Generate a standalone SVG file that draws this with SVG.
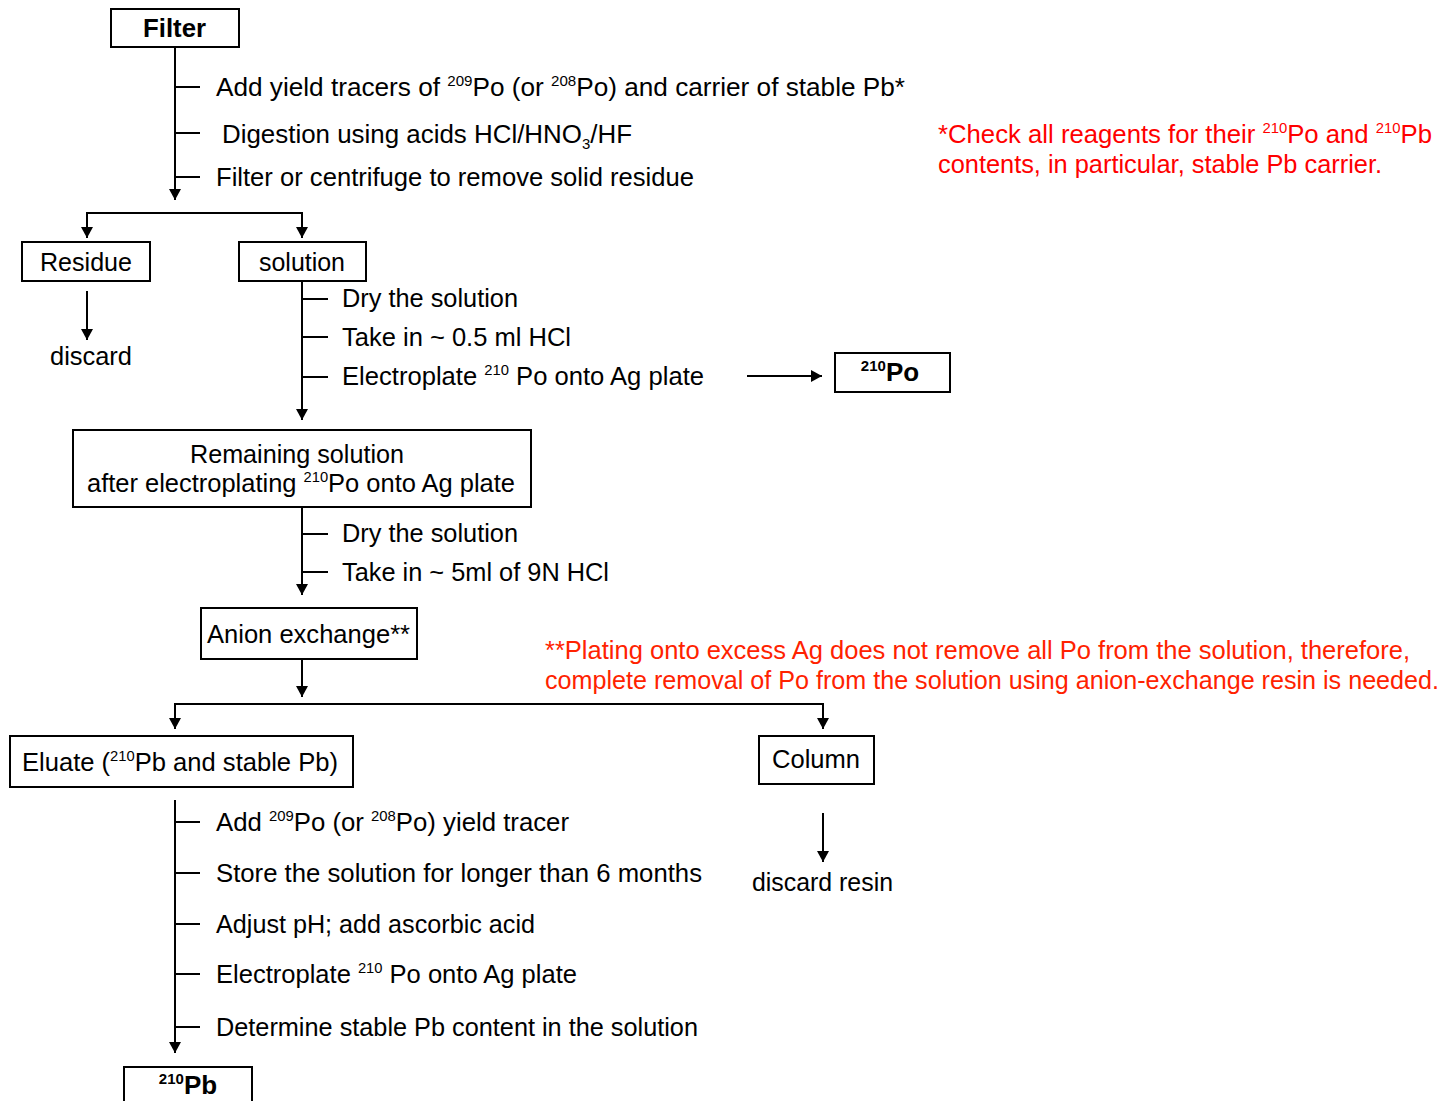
<svg xmlns="http://www.w3.org/2000/svg" width="1444" height="1101" viewBox="0 0 1444 1101">
<style>
.t{font-family:"Liberation Sans",Arial,sans-serif;font-size:26px;fill:#000}
.b{font-weight:bold}
.r{fill:#ff0000}
.r2{fill:#ff2200}
.s{font-size:15px}
.box{fill:#fff;stroke:#000;stroke-width:2}
.ln{fill:none;stroke:#000;stroke-width:2}
.c{text-anchor:middle}
</style>
<defs>
<marker id="ah" markerWidth="12" markerHeight="12" refX="11" refY="6" orient="auto" markerUnits="userSpaceOnUse">
<path d="M0,0 L11,6 L0,12 z" fill="#000"/>
</marker>
</defs>
<rect width="1444" height="1101" fill="#fff"/>

<g id="connectors">
<path class="ln" d="M175,47 V200" marker-end="url(#ah)"/>
<path class="ln" d="M175,87 H200 M175,133 H200 M175,177 H200"/>
<path class="ln" d="M176,213 H87 V238" marker-end="url(#ah)"/>
<path class="ln" d="M174,213 H302 V238" marker-end="url(#ah)"/>
<path class="ln" d="M87,291 V340" marker-end="url(#ah)"/>
<path class="ln" d="M302,281 V420" marker-end="url(#ah)"/>
<path class="ln" d="M302,299 H328 M302,337 H328 M302,377 H328"/>
<path class="ln" d="M747,376 H822" marker-end="url(#ah)"/>
<path class="ln" d="M302,507 V595" marker-end="url(#ah)"/>
<path class="ln" d="M302,534 H328 M302,572 H328"/>
<path class="ln" d="M302,659 V697" marker-end="url(#ah)"/>
<path class="ln" d="M303,704 H175 V729" marker-end="url(#ah)"/>
<path class="ln" d="M301,704 H823 V729" marker-end="url(#ah)"/>
<path class="ln" d="M823,813 V862" marker-end="url(#ah)"/>
<path class="ln" d="M175,800 V1053" marker-end="url(#ah)"/>
<path class="ln" d="M175,822 H200 M175,873 H200 M175,924 H200 M175,974 H200 M175,1027 H200"/>
</g>

<g id="step-labels">
<text class="t" x="216" y="96" textLength="689" lengthAdjust="spacingAndGlyphs">Add yield tracers of <tspan class="s" dy="-10">209</tspan><tspan dy="10">Po (or </tspan><tspan class="s" dy="-10">208</tspan><tspan dy="10">Po)   and carrier of  stable Pb*</tspan></text>
<text class="t" x="222" y="143" textLength="410" lengthAdjust="spacingAndGlyphs">Digestion using acids  HCl/HNO<tspan class="s" dy="6">3</tspan><tspan dy="-6">/HF</tspan></text>
<text class="t" x="216" y="186" textLength="478" lengthAdjust="spacingAndGlyphs">Filter or  centrifuge to remove solid residue</text>

<text class="t" x="50" y="365" textLength="82" lengthAdjust="spacingAndGlyphs">discard</text>

<text class="t" x="342" y="307" textLength="176" lengthAdjust="spacingAndGlyphs">Dry the solution</text>
<text class="t" x="342" y="346" textLength="229" lengthAdjust="spacingAndGlyphs">Take in ~ 0.5 ml HCl</text>
<text class="t" x="342" y="385" textLength="362" lengthAdjust="spacingAndGlyphs">Electroplate <tspan class="s" dy="-10">210</tspan><tspan dy="10"> Po onto Ag plate</tspan></text>

<text class="t" x="342" y="542" textLength="176" lengthAdjust="spacingAndGlyphs">Dry the solution</text>
<text class="t" x="342" y="581" textLength="267" lengthAdjust="spacingAndGlyphs">Take in ~ 5ml of 9N HCl</text>

<text class="t" x="216" y="831" textLength="353" lengthAdjust="spacingAndGlyphs">Add <tspan class="s" dy="-10">209</tspan><tspan dy="10">Po (or </tspan><tspan class="s" dy="-10">208</tspan><tspan dy="10">Po) yield tracer</tspan></text>
<text class="t" x="216" y="882" textLength="486" lengthAdjust="spacingAndGlyphs">Store the solution for  longer than 6 months</text>
<text class="t" x="216" y="933" textLength="319" lengthAdjust="spacingAndGlyphs">Adjust pH; add ascorbic acid</text>
<text class="t" x="216" y="983" textLength="361" lengthAdjust="spacingAndGlyphs">Electroplate <tspan class="s" dy="-10">210</tspan><tspan dy="10"> Po onto Ag plate</tspan></text>
<text class="t" x="216" y="1036" textLength="482" lengthAdjust="spacingAndGlyphs">Determine stable Pb content in the solution</text>

<text class="t" x="752" y="891" textLength="141" lengthAdjust="spacingAndGlyphs">discard resin</text>
</g>

<g id="notes">
<text class="t r" x="938" y="143" textLength="494" lengthAdjust="spacingAndGlyphs">*Check all reagents for their <tspan class="s" dy="-10">210</tspan><tspan dy="10">Po and </tspan><tspan class="s" dy="-10">210</tspan><tspan dy="10">Pb</tspan></text>
<text class="t r" x="938" y="173" textLength="444" lengthAdjust="spacingAndGlyphs">contents, in particular, stable Pb carrier.</text>
<text class="t r2" x="545" y="659" textLength="865" lengthAdjust="spacingAndGlyphs">**Plating onto excess Ag does not remove all Po from the solution,  therefore,</text>
<text class="t r2" x="545" y="689" textLength="894" lengthAdjust="spacingAndGlyphs">complete removal of Po from the solution using anion-exchange resin is needed.</text>
</g>

<g id="node-filter">
<rect class="box" x="111" y="9" width="128" height="38"/>
<text class="t b" x="143" y="37" textLength="63" lengthAdjust="spacingAndGlyphs">Filter</text>
</g>
<g id="node-residue">
<rect class="box" x="22" y="242" width="128" height="39"/>
<text class="t" x="40" y="271" textLength="92" lengthAdjust="spacingAndGlyphs">Residue</text>
</g>
<g id="node-solution">
<rect class="box" x="239" y="242" width="127" height="39"/>
<text class="t" x="259" y="271" textLength="86" lengthAdjust="spacingAndGlyphs">solution</text>
</g>
<g id="node-po210">
<rect class="box" x="835" y="353" width="115" height="39"/>
<text class="t b c" x="890" y="381"><tspan class="s" dy="-10">210</tspan><tspan dy="10">Po</tspan></text>
</g>
<g id="node-remaining">
<rect class="box" x="73" y="430" width="458" height="77"/>
<text class="t" x="190" y="463" textLength="214" lengthAdjust="spacingAndGlyphs">Remaining solution</text>
<text class="t" x="87" y="492" textLength="428" lengthAdjust="spacingAndGlyphs">after electroplating <tspan class="s" dy="-10">210</tspan><tspan dy="10">Po onto Ag plate</tspan></text>
</g>
<g id="node-anion">
<rect class="box" x="201" y="608" width="216" height="51"/>
<text class="t" x="207" y="643" textLength="203" lengthAdjust="spacingAndGlyphs">Anion exchange**</text>
</g>
<g id="node-eluate">
<rect class="box" x="10" y="736" width="343" height="51"/>
<text class="t" x="22" y="771" textLength="316" lengthAdjust="spacingAndGlyphs">Eluate (<tspan class="s" dy="-10">210</tspan><tspan dy="10">Pb and stable Pb)</tspan></text>
</g>
<g id="node-column">
<rect class="box" x="759" y="736" width="115" height="48"/>
<text class="t" x="772" y="768" textLength="88" lengthAdjust="spacingAndGlyphs">Column</text>
</g>
<g id="node-pb210">
<rect class="box" x="124" y="1067" width="128" height="40"/>
<text class="t b c" x="188" y="1094"><tspan class="s" dy="-10">210</tspan><tspan dy="10">Pb</tspan></text>
</g>
</svg>
